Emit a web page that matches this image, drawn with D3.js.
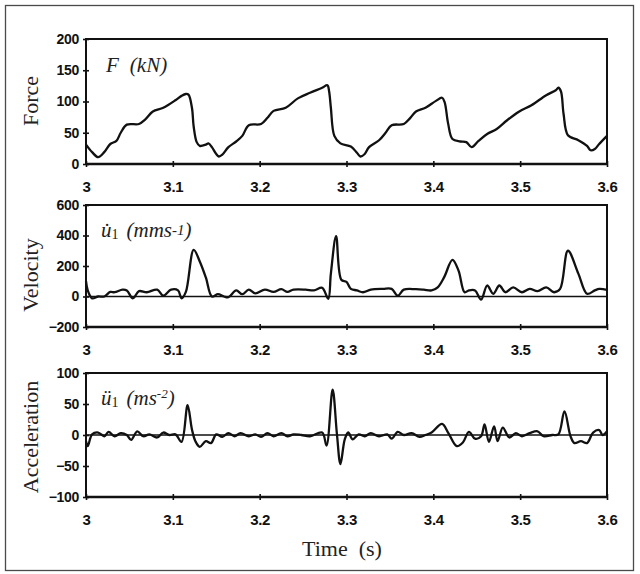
<!DOCTYPE html>
<html>
<head>
<meta charset="utf-8">
<script src="https://cdn.jsdelivr.net/npm/d3@7"></script>
<style>
  body { margin: 0; background: #ffffff; }
  svg { display: block; }
</style>
</head>
<body>
<svg id="chart" width="640" height="574"></svg>
<script>
// Time axis shared by all three panels
const timeDomain = [3, 3.6];
const timeTicks = [3, 3.1, 3.2, 3.3, 3.4, 3.5, 3.6];

// Tick values for each panel
const forceTicks = [0, 50, 100, 150, 200];
const velocityTicks = [-200, 0, 200, 400, 600];
const accelTicks = [-100, -50, 0, 50, 100];

// Force F (kN) against time (s)
const forceData = [
  [3.000, 31], [3.007, 19], [3.014, 11], [3.021, 19], [3.028, 32], [3.035, 37],
  [3.040, 50], [3.047, 63], [3.061, 64], [3.068, 71], [3.077, 84], [3.089, 90],
  [3.103, 102], [3.110, 109], [3.115, 112], [3.118, 111], [3.122, 90], [3.124, 60],
  [3.1275, 35], [3.131, 29], [3.138, 31], [3.141, 33], [3.145, 27], [3.150, 16],
  [3.153, 12], [3.157, 15], [3.164, 27], [3.173, 36], [3.180, 45], [3.1875, 62],
  [3.2016, 64], [3.209, 74], [3.216, 85], [3.230, 90], [3.244, 105], [3.258, 114],
  [3.272, 122], [3.278, 126], [3.280, 116], [3.282, 90], [3.286, 45], [3.293, 33],
  [3.305, 28], [3.312, 18], [3.316, 12], [3.321, 16], [3.326, 27], [3.3375, 38],
  [3.345, 50], [3.352, 62], [3.366, 64], [3.373, 73], [3.380, 84], [3.391, 90],
  [3.403, 101], [3.410, 106], [3.413, 99], [3.417, 65], [3.422, 40], [3.431, 36],
  [3.438, 35], [3.444, 27], [3.452, 37], [3.462, 48], [3.473, 56], [3.485, 70],
  [3.499, 84], [3.513, 94], [3.530, 110], [3.541, 118], [3.544, 122], [3.547, 116],
  [3.550, 80], [3.555, 46], [3.567, 38], [3.577, 29], [3.581, 22], [3.586, 24],
  [3.591, 32], [3.600, 45]
];

// Velocity u1 (mm/s) against time (s)
const velocityData = [
  [3.000, 100], [3.002, 40], [3.007, -12], [3.014, 0], [3.021, 0], [3.028, 30],
  [3.033, 28], [3.042, 45], [3.047, 40], [3.054, -12], [3.061, 35], [3.070, 28],
  [3.082, 45], [3.089, 5], [3.098, 45], [3.106, 40], [3.110, -12], [3.115, 30],
  [3.124, 305], [3.131, 230], [3.138, 125], [3.145, 0], [3.152, 15], [3.159, 0],
  [3.164, -5], [3.173, 40], [3.180, 15], [3.1875, 45], [3.195, 20], [3.206, 45],
  [3.216, 30], [3.225, 48], [3.232, 30], [3.239, 45], [3.253, 45], [3.2625, 40],
  [3.272, 57], [3.279, -15], [3.282, 150], [3.288, 395], [3.294, 110], [3.300, 96],
  [3.305, 50], [3.312, 40], [3.319, 28], [3.328, 45], [3.342, 50], [3.352, 50],
  [3.359, 5], [3.366, 45], [3.380, 48], [3.389, 45], [3.398, 40], [3.405, 60],
  [3.4125, 127], [3.422, 240], [3.429, 170], [3.436, 28], [3.441, 40], [3.448, 40],
  [3.455, -20], [3.462, 72], [3.469, 18], [3.476, 72], [3.483, 28], [3.492, 60],
  [3.502, 28], [3.511, 50], [3.520, 35], [3.530, 60], [3.539, 28], [3.546, 50],
  [3.555, 300], [3.567, 150], [3.577, 18], [3.586, 40], [3.591, 50], [3.600, 44]
];

// Acceleration u1 (m/s^2) against time (s)
const accelData = [
  [3.000, -10], [3.002, -18], [3.007, 1], [3.014, 4], [3.021, -2], [3.026, 5],
  [3.033, -2], [3.040, 3], [3.047, 0], [3.052, -8], [3.059, 6], [3.066, -2],
  [3.073, 1], [3.082, -4], [3.089, 4], [3.096, 0], [3.103, 1], [3.110, -11],
  [3.117, 48], [3.122, 9], [3.126, -10], [3.131, -19], [3.138, -10], [3.144, -13],
  [3.150, 1], [3.157, -3], [3.164, 3], [3.171, -2], [3.178, 3], [3.1875, -2],
  [3.195, 1], [3.2016, -3], [3.209, 3], [3.216, -2], [3.225, 3], [3.232, -2],
  [3.239, 1], [3.248, 0], [3.258, -2], [3.272, 4], [3.277, -17], [3.284, 73],
  [3.289, 1], [3.293, -47], [3.298, -7], [3.302, 4], [3.307, -7], [3.314, 1],
  [3.321, -2], [3.328, 3], [3.3375, -2], [3.347, 1], [3.352, -6], [3.359, 5],
  [3.366, 0], [3.375, 3], [3.384, -3], [3.391, 0], [3.398, 4], [3.410, 18],
  [3.417, 4], [3.427, -18], [3.434, -12], [3.441, 5], [3.448, -6], [3.455, -2],
  [3.459, 17], [3.464, -11], [3.470, 14], [3.474, -10], [3.480, 12], [3.4875, -4],
  [3.495, 3], [3.502, -2], [3.511, 3], [3.520, 6], [3.527, -2], [3.537, 0],
  [3.544, 1], [3.551, 38], [3.558, -2], [3.5625, -13], [3.570, -10], [3.577, -13],
  [3.584, 4], [3.591, 8], [3.595, 0], [3.600, 6]
];

const svg = d3.select("#chart");
const W = 640, H = 574;
const left = 86, right = 607;

// Outer figure frame
svg.append("rect")
  .attr("x", 5.5).attr("y", 5.5)
  .attr("width", W - 12).attr("height", H - 9)
  .attr("fill", "none").attr("stroke", "#4a4a4a").attr("stroke-width", 1.3);

const x = d3.scaleLinear().domain(timeDomain).range([left, right]);

const panels = [
  { title: "Force", data: forceData, ticks: forceTicks, top: 39, bottom: 164, zero: false,
    titleY: 101, labelX: 106, labelY: 72, label: "force" },
  { title: "Velocity", data: velocityData, ticks: velocityTicks, top: 205, bottom: 327, zero: true,
    titleY: 275, labelX: 101, labelY: 237, label: "velocity" },
  { title: "Acceleration", data: accelData, ticks: accelTicks, top: 373, bottom: 497, zero: true,
    titleY: 437, labelX: 101, labelY: 405, label: "accel" }
];

const serif = "'Liberation Serif', 'Times New Roman', serif";
const sans = "'Liberation Sans', Arial, sans-serif";

panels.forEach(p => {
  const y = d3.scaleLinear()
    .domain([p.ticks[0], p.ticks[p.ticks.length - 1]])
    .range([p.bottom, p.top]);
  const g = svg.append("g");

  // Left axis
  const ya = g.append("g")
    .attr("transform", `translate(${left},0)`)
    .call(d3.axisLeft(y).tickValues(p.ticks).tickFormat(d3.format("d")).tickSize(3).tickPadding(4));
  ya.select(".domain").remove();
  ya.selectAll(".tick line").attr("x1", -3).attr("x2", 3).attr("stroke", "#111").attr("stroke-width", 1.6);
  ya.selectAll(".tick text")
    .attr("font-family", sans).attr("font-weight", "bold").attr("font-size", 14)
    .attr("fill", "#111").attr("letter-spacing", -0.3);

  // Bottom axis
  const xa = g.append("g")
    .attr("transform", `translate(0,${p.bottom})`)
    .call(d3.axisBottom(x).tickValues(timeTicks).tickFormat(d => String(d)).tickSize(3).tickPadding(14));
  xa.select(".domain").remove();
  xa.selectAll(".tick line").attr("y1", -3).attr("y2", 3).attr("stroke", "#111").attr("stroke-width", 1.6);
  xa.selectAll(".tick text")
    .attr("font-family", sans).attr("font-weight", "bold").attr("font-size", 15)
    .attr("fill", "#111").attr("letter-spacing", -0.3);

  // Plot frame
  g.append("rect")
    .attr("x", left).attr("y", p.top)
    .attr("width", right - left).attr("height", p.bottom - p.top)
    .attr("fill", "none").attr("stroke", "#111").attr("stroke-width", 2);
  g.append("line")
    .attr("x1", left).attr("x2", right).attr("y1", p.bottom).attr("y2", p.bottom)
    .attr("stroke", "#111").attr("stroke-width", 2.6);

  // Zero reference line
  if (p.zero) {
    g.append("line")
      .attr("x1", left).attr("x2", right).attr("y1", y(0)).attr("y2", y(0))
      .attr("stroke", "#111").attr("stroke-width", 1.6);
  }

  // Data trace
  const line = d3.line()
    .x(d => x(d[0])).y(d => y(d[1]))
    .curve(d3.curveCatmullRom.alpha(0.5));
  g.append("path")
    .datum(p.data)
    .attr("d", line)
    .attr("fill", "none").attr("stroke", "#111")
    .attr("stroke-width", 2.3).attr("stroke-linejoin", "round");

  // Vertical axis title
  g.append("text")
    .attr("transform", `translate(30,${p.titleY}) rotate(-90)`)
    .attr("text-anchor", "middle").attr("dominant-baseline", "central")
    .attr("font-family", serif).attr("font-size", 22).attr("fill", "#222")
    .text(p.title);

  // Quantity label inside each panel
  const t = g.append("text")
    .attr("x", p.labelX).attr("y", p.labelY)
    .attr("font-family", serif).attr("font-size", 21).attr("fill", "#222");
  if (p.label === "force") {
    t.append("tspan").attr("font-style", "italic").text("F");
    t.append("tspan").attr("font-style", "italic").attr("dx", 11).text("(kN)");
  } else if (p.label === "velocity") {
    t.append("tspan").attr("font-style", "italic").text("u\u0307");
    t.append("tspan").attr("font-size", 14).attr("dy", 2).text("1");
    t.append("tspan").attr("font-style", "italic").attr("dx", 8).attr("dy", -2).text("(mms");
    t.append("tspan").attr("font-style", "italic").attr("font-size", 15).attr("dy", -2).text("-1");
    t.append("tspan").attr("font-style", "italic").attr("dy", 2).text(")");
  } else {
    t.append("tspan").attr("font-style", "italic").text("\u00fc");
    t.append("tspan").attr("font-size", 14).attr("dy", 2).text("1");
    t.append("tspan").attr("font-style", "italic").attr("dx", 8).attr("dy", -2).text("(ms");
    t.append("tspan").attr("font-style", "italic").attr("font-size", 13).attr("dy", -7).text("-2");
    t.append("tspan").attr("font-style", "italic").attr("dy", 7).text(")");
  }
});

// Shared time axis title
svg.append("text")
  .attr("x", 342).attr("y", 556)
  .attr("text-anchor", "middle")
  .attr("font-family", serif).attr("font-size", 22).attr("fill", "#222")
  .attr("xml:space", "preserve")
  .text("Time  (s)");
</script>
</body>
</html>
